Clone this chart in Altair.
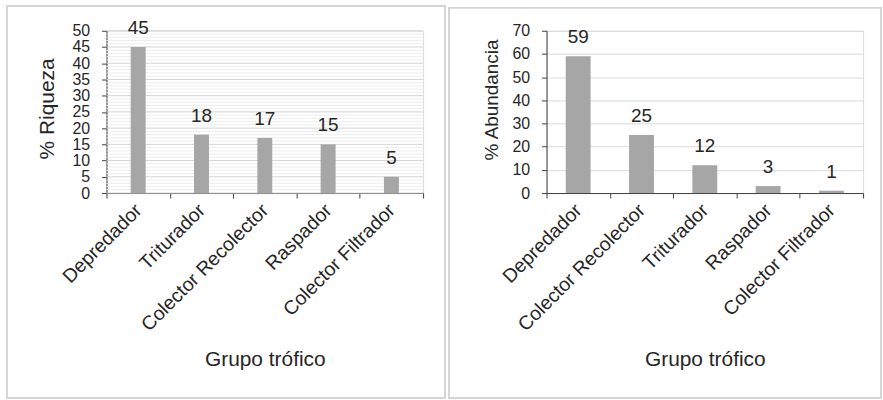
import altair as alt
import pandas as pd

# Riqueza (%) por grupo trófico
riqueza_grupos = ["Depredador", "Triturador", "Colector Recolector", "Raspador", "Colector Filtrador"]
riqueza_valores = [45, 18, 17, 15, 5]

# Abundancia (%) por grupo trófico
abundancia_grupos = ["Depredador", "Colector Recolector", "Triturador", "Raspador", "Colector Filtrador"]
abundancia_valores = [59, 25, 12, 3, 1]

FONT = "Liberation Sans"
TEXT = "#262626"
BAR = "#a6a6a6"
AXIS = "#404040"
W, H = 318, 163


def panel(grupos, valores, ymax, step, ytitle, title_size, tick_size, bar_size, box,
          minor_grid, title_y, title_pad):
    df = pd.DataFrame({"grupo": grupos, "valor": valores})
    base = alt.Chart(df)

    x = alt.X(
        "grupo:N", sort=None, title="Grupo trófico",
        scale=alt.Scale(paddingInner=0, paddingOuter=0),
        axis=alt.Axis(
            labelAngle=-45, labelAlign="right", labelBaseline="middle",
            labelFontSize=19.5, labelColor=TEXT, labelFont=FONT, labelPadding=9,
            tickBand="extent", tickSize=5, tickColor=AXIS, domainColor=AXIS,
            titleFontSize=21, titleFont=FONT, titleColor=TEXT, titleFontWeight="normal",
            titlePadding=14,
        ),
    )
    y_scale = alt.Scale(domain=[0, ymax], nice=False)
    y_axis = alt.Axis(
        values=list(range(0, ymax + 1, step)), grid=not minor_grid, labelOverlap=False,
        gridColor="#d9d9d9", tickSize=5, tickColor=AXIS, domainColor=AXIS,
        labelFontSize=tick_size, labelFont=FONT, labelColor=TEXT, labelPadding=12,
        titleFontSize=title_size, titleFont=FONT, titleColor=TEXT, titleFontWeight="normal",
        titlePadding=title_pad, titleY=title_y,
    )
    y = alt.Y("valor:Q", title=ytitle, scale=y_scale, axis=y_axis)

    frame = alt.Chart(pd.DataFrame({"k": [0]})).mark_rect(
        fillOpacity=0, stroke="#d6d6d6", strokeWidth=2
    ).encode(
        x=alt.value(box[0]), x2=alt.value(box[1]),
        y=alt.value(box[2]), y2=alt.value(box[3]),
    )

    bars = base.mark_bar(color=BAR, size=bar_size).encode(x=x, y=y)
    labels = base.mark_text(
        font=FONT, fontSize=19, color=TEXT, baseline="alphabetic", dy=-13
    ).encode(x=x, y=y, text="valor:Q")

    layers = [frame]
    if minor_grid:
        # fine horizontal guides every unit, stronger every 5
        grid = alt.Chart(alt.sequence(0, ymax + 1, 1, as_="v")).mark_rule(strokeWidth=1).encode(
            y=alt.Y("v:Q", title=ytitle, scale=y_scale, axis=y_axis),
            color=alt.condition("datum.v % 5 == 0", alt.value("#d4d4d4"), alt.value("#ededed")),
        )
        layers.append(grid)
    layers += [bars, labels]
    return alt.layer(*layers).properties(width=W, height=H)


left = panel(riqueza_grupos, riqueza_valores, 50, 5, "% Riqueza", 21, 16, 15,
             (-100, 340, -25, 369), True, 78, 14)
right = panel(abundancia_grupos, abundancia_valores, 70, 10, "% Abundancia", 19, 16, 25,
              (-98, 336, -23, 369), False, 69, 10)

chart = alt.hconcat(left, right, spacing=124, bounds="flush").properties(
    padding={"left": 5, "top": 3, "right": 0, "bottom": 0}
).configure_view(stroke=None).configure(background="white")

chart.save("out.html", embed_options={"renderer": "svg", "actions": False})
